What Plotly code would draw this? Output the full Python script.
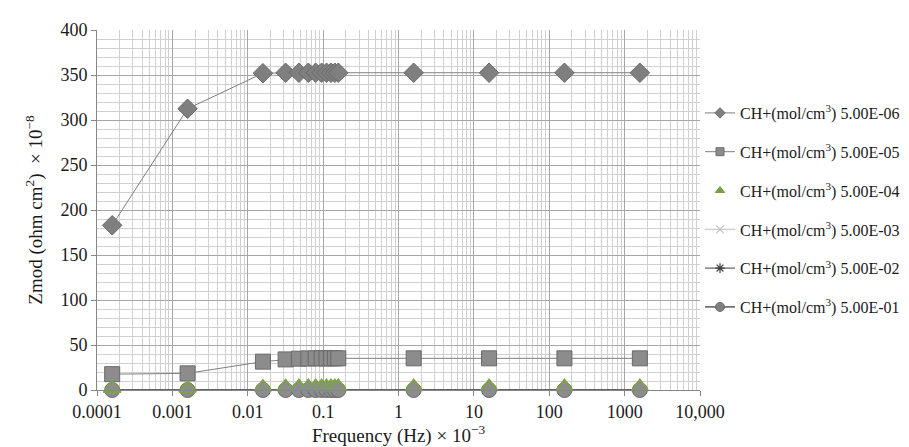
import plotly.graph_objects as go

# Frequency (Hz) x 1e-3
freq = [0.000159, 0.00159, 0.0159, 0.0318, 0.0477, 0.0637, 0.0796, 0.0955,
        0.111, 0.127, 0.143, 0.159, 1.59, 15.9, 159, 1592]

z_5e06 = [183, 312.5, 352, 352.5, 352.5, 352.5, 352.5, 352.5,
          352.5, 352.5, 352.5, 352.5, 352.5, 352.5, 352.5, 352.5]
z_5e05 = [17.6, 18.5, 31.5, 34, 34.8, 35, 35.2, 35.2,
          35.2, 35.2, 35.2, 35.2, 35.2, 35.2, 35.2, 35.2]
z_5e04 = [1.8, 1.9, 3.2, 3.4, 3.5, 3.5, 3.5, 3.5,
          3.5, 3.5, 3.5, 3.5, 3.5, 3.5, 3.5, 3.5]
z_5e03 = [0.18, 0.19, 0.32, 0.34, 0.35, 0.35, 0.35, 0.35,
          0.35, 0.35, 0.35, 0.35, 0.35, 0.35, 0.35, 0.35]
z_5e02 = [0.02, 0.02, 0.03, 0.03, 0.04, 0.04, 0.04, 0.04,
          0.04, 0.04, 0.04, 0.04, 0.04, 0.04, 0.04, 0.04]
z_5e01 = [0.002, 0.002, 0.003, 0.003, 0.004, 0.004, 0.004, 0.004,
          0.004, 0.004, 0.004, 0.004, 0.004, 0.004, 0.004, 0.004]

series_names = ["CH+(mol/cm<sup>3</sup>) 5.00E-06", "CH+(mol/cm<sup>3</sup>) 5.00E-05",
                "CH+(mol/cm<sup>3</sup>) 5.00E-04", "CH+(mol/cm<sup>3</sup>) 5.00E-03",
                "CH+(mol/cm<sup>3</sup>) 5.00E-02", "CH+(mol/cm<sup>3</sup>) 5.00E-01"]

x_tickvals = [0.0001, 0.001, 0.01, 0.1, 1, 10, 100, 1000, 10000]
x_ticktext = ["0.0001", "0.001", "0.01", "0.1", "1", "10", "100", "1000", "10,000"]
y_tickvals = [0, 50, 100, 150, 200, 250, 300, 350, 400]

FONT = "Liberation Serif, Times New Roman, serif"

styles = [
    dict(mode="lines+markers", line=dict(color="#7f7f7f", width=1),
         marker=dict(symbol="diamond", size=15, color="#7f7f7f", line=dict(color="#6a6a6a", width=1))),
    dict(mode="lines+markers", line=dict(color="#7f7f7f", width=1),
         marker=dict(symbol="square", size=15, color="#8c8c8c", line=dict(color="#6a6a6a", width=1))),
    dict(mode="markers", line=dict(color="#77a040", width=1),
         marker=dict(symbol="triangle-up", size=15, color="#8c8c8c", line=dict(color="#7aa83c", width=1.5))),
    dict(mode="lines+markers", line=dict(color="#bfbfbf", width=1),
         marker=dict(symbol="x-thin", size=9, color="#bfbfbf", line=dict(color="#bfbfbf", width=1.2))),
    dict(mode="lines+markers", line=dict(color="#404040", width=1),
         marker=dict(symbol="asterisk", size=9, color="#404040", line=dict(color="#404040", width=1.2))),
    dict(mode="lines+markers", line=dict(color="#595959", width=1.5),
         marker=dict(symbol="circle", size=15, color="#8c8c8c", line=dict(color="#6a6a6a", width=1))),
]
legend_styles = [
    dict(symbol="diamond", size=8, color="#7f7f7f", line=dict(color="#6a6a6a", width=1)),
    dict(symbol="square", size=8, color="#8c8c8c", line=dict(color="#6a6a6a", width=1)),
    dict(symbol="triangle-up", size=8, color="#77a040", line=dict(color="#77a040", width=1)),
    dict(symbol="x-thin", size=8, color="#bfbfbf", line=dict(color="#bfbfbf", width=1.2)),
    dict(symbol="asterisk", size=8, color="#404040", line=dict(color="#404040", width=1.2)),
    dict(symbol="circle", size=9, color="#808080", line=dict(color="#6a6a6a", width=1)),
]

data = [z_5e06, z_5e05, z_5e04, z_5e03, z_5e02, z_5e01]

fig = go.Figure()
# draw order: triangles on top of the circles
order = [0, 1, 3, 4, 5, 2]
for i in order:
    fig.add_trace(go.Scatter(x=freq, y=data[i], name=series_names[i], showlegend=False,
                             cliponaxis=False, **styles[i]))
# legend entries with small markers
for i in range(6):
    st = styles[i]
    fig.add_trace(go.Scatter(x=[None], y=[None], name=series_names[i], mode=st["mode"],
                             line=st["line"], marker=legend_styles[i],
                             legendgroup=f"g{i}", showlegend=True))

fig.update_layout(
    width=909, height=447,
    margin=dict(l=89, r=204, t=20, b=64),
    paper_bgcolor="white", plot_bgcolor="white",
    font=dict(family=FONT, size=18, color="#1a1a1a"),
    legend=dict(x=1.0, xanchor="left", y=0.5, yanchor="middle",
                font=dict(family=FONT, size=16, color="#1a1a1a"),
                tracegroupgap=15, itemwidth=30, bgcolor="rgba(0,0,0,0)"),
    xaxis=dict(type="log", range=[-4, 4], tickvals=x_tickvals, ticktext=x_ticktext,
               showgrid=True, gridcolor="#a6a6a6", gridwidth=1,
               minor=dict(dtick="D1", showgrid=True, gridcolor="#d0d0d0", ticks=""),
               showline=True, linecolor="#868686", linewidth=1,
               ticks="outside", ticklen=5, tickcolor="#868686",
               zeroline=False,
               title=dict(text="Frequency (Hz) × 10<sup>−3</sup>", font=dict(size=19), standoff=8)),
    yaxis=dict(range=[0, 400], tickvals=y_tickvals,
               showgrid=True, gridcolor="#a6a6a6", gridwidth=1,
               minor=dict(dtick=10, showgrid=True, gridcolor="#d0d0d0", ticks=""),
               showline=True, linecolor="#868686", linewidth=1,
               ticks="outside", ticklen=5, tickcolor="#868686",
               zeroline=False,
               title=dict(text="Zmod (ohm cm<sup>2</sup>)  × 10<sup>−8</sup>", font=dict(size=19), standoff=12)),
)

fig.write_html("out.html")
